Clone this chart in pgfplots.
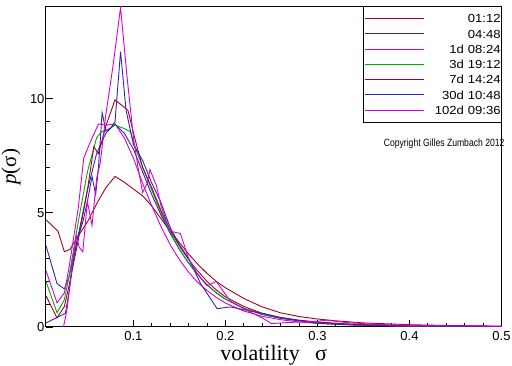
\documentclass[border=0pt]{standalone}
\usepackage{fontspec}
\setmainfont{Liberation Sans}
\newfontfamily\serif{Liberation Serif}
\newfontfamily\legfont[FakeStretch=1.12]{Liberation Sans}
\newfontfamily\copyfont[FakeStretch=0.82]{Liberation Sans}
\usepackage{pgfplots}
\pgfplotsset{compat=1.18}
\definecolor{cdr}{RGB}{170,0,30}
\definecolor{cbl}{RGB}{40,40,185}
\definecolor{cmg}{RGB}{215,0,215}
\definecolor{cgr}{RGB}{0,170,0}
\begin{document}
\begin{tikzpicture}[x=1pt,y=1pt]
\useasboundingbox (0,0) rectangle (512,366);
\begin{axis}[
  at={(46pt,39pt)}, anchor=south west, scale only axis,
  width=455.5pt, height=320.5pt,
  xmin=0.005, xmax=0.5, ymin=0, ymax=14.05,
  xtick={0.1,0.2,0.3,0.4,0.5}, ytick={0,5,10},
  minor x tick num=4, minor y tick num=4,
  tick pos=left, tick align=inside,
  major tick length=7pt, minor tick length=4pt,
  axis line style={line width=1pt},
  every tick/.style={black, line width=0.9pt},
  /pgf/number format/assume math mode=true,
  x tick label style={font=\fontsize{13}{13}\selectfont, yshift=-1pt},
  y tick label style={font=\fontsize{13}{13}\selectfont, xshift=2pt},
  xlabel={\serif volatility\hspace{0.7em}σ},
  xlabel style={at={(axis description cs:0.5,0)}, anchor=base, yshift=-34pt, font=\fontsize{22}{22}\selectfont},
  ylabel={\serif \textit{p}(σ)},
  ylabel style={at={(axis description cs:-0.0768,0.5)}, anchor=center, font=\fontsize{21}{21}\selectfont},
  every axis plot/.append style={line width=0.9pt},
  legend image code/.code={\draw[#1] (0pt,0pt) -- (59pt,0pt);},
  legend style={at={(axis description cs:1,1)}, anchor=north east, xshift=0.5pt, yshift=0.5pt,
    draw=black, line width=0.8pt, fill=white, inner xsep=1pt, inner ysep=8pt,
    row sep=6.65pt, column sep=8.5pt,
    font=\legfont\fontsize{11.7}{11.7}\selectfont,
    nodes={inner sep=0pt, text height=8.6pt, text depth=0pt, text width=68pt, align=right}},
]
\addplot[cdr] coordinates {(0.005,4.7)(0.018,4.2)(0.025,3.3)(0.031,3.4)(0.04,4.0)(0.05,4.6)(0.06,5.4)(0.07,6.1)(0.08,6.6)(0.09,6.35)(0.1,6.05)(0.11,5.75)(0.12,5.3)(0.13,4.75)(0.14,4.2)(0.15,3.7)(0.16,3.2)(0.17,2.75)(0.18,2.35)(0.19,2.0)(0.2,1.72)(0.22,1.25)(0.24,0.88)(0.26,0.62)(0.28,0.46)(0.3,0.35)(0.32,0.27)(0.35,0.18)(0.4,0.1)(0.45,0.06)(0.5,0.04)};
\addlegendentry{01:12\hspace*{6pt}}
\addplot[cbl] coordinates {(0.005,3.57)(0.017,1.9)(0.025,1.67)(0.03,2.2)(0.04,4.0)(0.05,6.0)(0.06,7.6)(0.07,8.5)(0.08,8.9)(0.09,8.5)(0.1,7.8)(0.11,6.8)(0.12,5.8)(0.13,4.9)(0.14,4.1)(0.15,3.4)(0.16,2.8)(0.17,2.3)(0.18,1.85)(0.19,1.5)(0.2,1.22)(0.22,0.82)(0.24,0.55)(0.26,0.38)(0.28,0.27)(0.3,0.19)(0.33,0.12)(0.36,0.08)(0.4,0.05)(0.45,0.03)(0.5,0.02)};
\addlegendentry{04:48\hspace*{6pt}}
\addplot[cmg] coordinates {(0.005,2.47)(0.017,1.06)(0.025,1.5)(0.03,2.6)(0.04,5.2)(0.046,7.4)(0.052,8.0)(0.062,8.9)(0.07,8.85)(0.08,8.9)(0.09,8.3)(0.1,7.4)(0.11,6.3)(0.12,5.3)(0.13,4.4)(0.14,3.6)(0.15,2.95)(0.16,2.4)(0.17,1.95)(0.18,1.6)(0.19,1.3)(0.2,1.05)(0.22,0.7)(0.24,0.47)(0.26,0.32)(0.28,0.22)(0.3,0.16)(0.33,0.1)(0.36,0.06)(0.4,0.04)(0.45,0.02)(0.5,0.01)};
\addlegendentry{1d 08:24\hspace*{6pt}}
\addplot[cgr] coordinates {(0.005,2.0)(0.017,0.62)(0.025,1.2)(0.03,2.2)(0.04,4.6)(0.05,6.8)(0.06,8.3)(0.065,8.55)(0.07,8.6)(0.08,8.85)(0.09,8.7)(0.097,8.55)(0.1,8.1)(0.11,7.0)(0.12,6.0)(0.13,5.0)(0.14,4.15)(0.15,3.4)(0.16,2.8)(0.17,2.3)(0.18,1.85)(0.19,1.5)(0.2,1.22)(0.22,0.82)(0.24,0.56)(0.26,0.39)(0.28,0.28)(0.3,0.2)(0.33,0.12)(0.36,0.07)(0.4,0.04)(0.45,0.02)(0.5,0.01)};
\addlegendentry{3d 19:12\hspace*{6pt}}
\addplot[cdr] coordinates {(0.005,1.37)(0.017,0.4)(0.025,0.9)(0.03,1.8)(0.04,3.8)(0.05,6.0)(0.057,7.9)(0.062,7.6)(0.07,8.8)(0.08,9.96)(0.094,9.5)(0.102,8.2)(0.11,7.0)(0.12,6.1)(0.13,5.1)(0.14,4.25)(0.15,3.55)(0.16,2.95)(0.17,2.45)(0.18,2.0)(0.19,1.62)(0.2,1.32)(0.22,0.9)(0.24,0.6)(0.26,0.42)(0.28,0.3)(0.3,0.22)(0.33,0.14)(0.36,0.09)(0.4,0.05)(0.45,0.03)(0.5,0.02)};
\addlegendentry{7d 14:24\hspace*{6pt}}
\addplot[cbl] coordinates {(0.005,0.18)(0.026,0.6)(0.03,1.5)(0.035,3.0)(0.04,4.0)(0.045,4.6)(0.05,5.5)(0.055,6.6)(0.059,5.8)(0.062,7.0)(0.066,9.4)(0.07,8.6)(0.075,8.7)(0.08,9.0)(0.086,12.07)(0.092,9.5)(0.1,8.0)(0.11,7.3)(0.12,6.3)(0.129,5.55)(0.14,4.36)(0.15,3.6)(0.16,3.0)(0.173,1.9)(0.191,0.8)(0.205,0.88)(0.227,0.7)(0.24,0.6)(0.26,0.4)(0.28,0.28)(0.3,0.16)(0.33,0.1)(0.36,0.08)(0.4,0.04)(0.45,0.03)(0.5,0.02)};
\addlegendentry{30d 10:48\hspace*{6pt}}
\addplot[cmg] coordinates {(0.024,0)(0.028,0.8)(0.033,2.6)(0.038,4.0)(0.041,3.5)(0.045,3.3)(0.05,5.5)(0.055,4.45)(0.06,6.5)(0.064,7.2)(0.07,9.3)(0.078,11.5)(0.086,14.0)(0.093,11.0)(0.1,8.3)(0.105,7.0)(0.11,5.9)(0.115,6.3)(0.118,6.9)(0.125,6.2)(0.13,5.3)(0.14,4.2)(0.151,4.1)(0.16,3.0)(0.17,2.3)(0.18,1.8)(0.19,2.0)(0.205,1.15)(0.22,0.8)(0.24,0.4)(0.25,0.15)(0.27,0.2)(0.3,0.25)(0.31,0.3)(0.33,0.2)(0.36,0.12)(0.4,0.07)(0.45,0.05)(0.5,0.03)};
\addlegendentry{102d 09:36\hspace*{6pt}}
\end{axis}
\node[anchor=east, font=\copyfont\fontsize{10.5}{10.5}\selectfont] at (508,222) {Copyright Gilles Zumbach 2012};
\end{tikzpicture}
\end{document}
